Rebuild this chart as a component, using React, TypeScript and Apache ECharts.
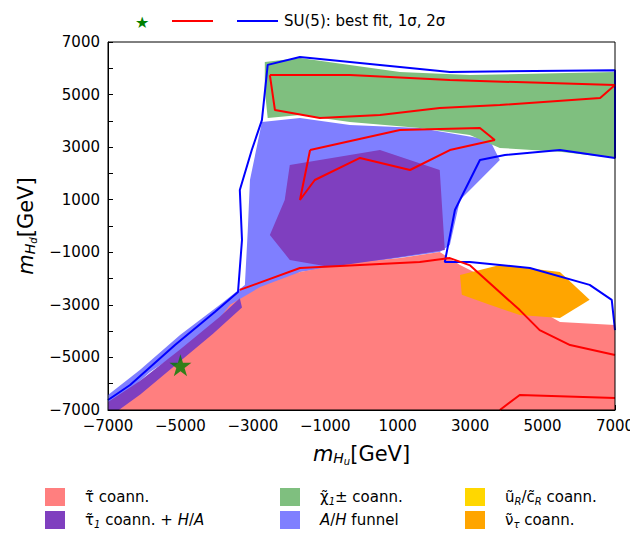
import { useEffect, useRef } from 'react'
import * as echarts from 'echarts'

// region outlines in (m_Hu, m_Hd) GeV
const funnelRegion = [[-7000,-7000],[-7000,-6430],[-6120,-5480],[-5010,-4150],[-3910,-3000],[-3220,-2240],[-3140,-150],[-3080,1750],[-2750,3960],[-1700,4110],[-320,3840],[1610,3730],[3540,3270],[3820,2510],[2720,990],[2440,-720],[2160,-990],[-1700,-1750],[-5840,-5550]]
const stauRegion = [[-7000,-7000],[-6300,-6500],[-5300,-5350],[-4300,-4200],[-3630,-3000],[-2800,-2320],[-1700,-1750],[-320,-1410],[1060,-1220],[2160,-990],[2720,-1480],[3820,-2240],[4650,-3000],[5480,-3650],[7000,-3770],[7000,-7000]]
const stau1Block = [[-1980,2320],[510,2890],[2160,2130],[2300,-910],[1060,-1180],[-870,-1560],[-1980,-1290],[-2530,-340],[-2120,990]]
const stau1Band = [[-7000,-6700],[-6120,-5900],[-5010,-4700],[-3910,-3450],[-3360,-2750],[-3300,-3100],[-4100,-4100],[-5100,-5250],[-6100,-6400],[-6700,-7000],[-7000,-7000]]
const charginoRegion = [[-2670,6240],[-1700,6390],[1060,5860],[2990,5740],[7000,5860],[7000,2590],[5480,2820],[3820,2970],[2990,3460],[1610,3730],[-320,3960],[-1700,4220],[-2590,4110],[-2670,5170]]
const sneutrinoRegion = [[2720,-1860],[3820,-1480],[5480,-1750],[6300,-2810],[5480,-3500],[4370,-3390],[3540,-3000],[2770,-2620]]

const blueContour = [[-7000,-6620],[-6390,-6050],[-5150,-4530],[-4050,-3270],[-3410,-2510],[-3300,-530],[-3360,1370],[-3030,2890],[-2750,4030],[-2590,6130],[-1700,6430],[2440,5860],[7000,5930],[7000,2590],[5480,2890],[3960,2700],[3270,2510],[2580,610],[2300,-1370],[2990,-1370],[4650,-1600],[6300,-2240],[6910,-2810],[7000,-3960]]
const redContourTop = [[-2530,5740],[-320,5740],[2440,5550],[7000,5360],[6590,4870],[3820,4600],[2160,4490],[510,4220],[-1150,4110],[-2390,4410],[-2530,5740]]
const redContourMid = [[-1420,2890],[1060,3650],[3270,3730],[3680,3270],[2440,2890],[1340,2130],[-40,2590],[-1290,1750],[-1700,990],[-1420,2890]]
const redContourLow = [[-3360,-2430],[-1700,-1600],[1610,-1370],[2440,-1220],[3000,-1500],[4370,-3200],[4920,-3960],[5760,-4530],[7000,-4910]]
const redContourBottom = [[3820,-7000],[4370,-6430],[7000,-6540]]
const bestFit = [[-5000,-5300]]

const xTicks = [-7000, -5000, -3000, -1000, 1000, 3000, 5000, 7000]

const C = { stau: '#ff7f7f', stau1: '#7f3fbf', chargino: '#7fbf7f', funnel: '#7f7fff', stop: '#ffd700', snu: '#ffa500' }

const STAR = 'path://M50,0 L61,35 L98,35 L68,57 L79,91 L50,70 L21,91 L32,57 L2,35 L39,35 Z'

function region(pts: number[][], color: string, z: number) {
  return {
    type: 'custom',
    data: pts,
    z,
    silent: true,
    renderItem: (params: any, api: any) => {
      if (params.dataIndex !== 0) return null
      return { type: 'polygon', shape: { points: pts.map((p) => api.coord(p)) }, style: { fill: color } }
    },
  }
}

function contour(pts: number[][], color: string) {
  return { type: 'line', data: pts, showSymbol: false, z: 10, lineStyle: { color, width: 2 } }
}

const fmt = (v: number) => (xTicks.includes(v) ? String(v).replace('-', '\u2212') : '')

export default function App() {
  const ref = useRef<HTMLDivElement>(null)
  useEffect(() => {
    if (!ref.current) return
    const chart = echarts.init(ref.current, undefined, { renderer: 'svg' })
    const font = 'DejaVu Sans'
    const axisCommon = {
      type: 'value', min: -7000, max: 7000, interval: 1000,
      axisLine: { onZero: false, lineStyle: { color: '#000', width: 1 } },
      axisTick: { inside: true, length: 5, lineStyle: { color: '#000' } },
      splitLine: { show: false },
      axisLabel: { formatter: fmt, color: '#000', fontSize: 15, fontFamily: font, showMinLabel: true, showMaxLabel: true },
      nameLocation: 'middle',
    }
    const rich = {
      sub: { fontSize: 10, fontFamily: font, fontStyle: 'italic', padding: [8, 0, 0, 0] },
      it: { fontSize: 15, fontFamily: font, fontStyle: 'italic' },
    }
    const legendRow = (y: number, items: [string, string, number][]) =>
      items.flatMap(([c, t, x]) => [
        { type: 'rect', shape: { x, y: y - 9, width: 20, height: 18 }, style: { fill: c } },
        { type: 'text', x: x + 40, y, style: { text: t, fill: '#000', font: `15px ${font}`, verticalAlign: 'middle', rich } },
      ])
    chart.setOption({
      animation: false,
      backgroundColor: '#fff',
      grid: { left: 108, right: 23, top: 42, bottom: 128 },
      xAxis: {
        ...axisCommon, position: 'bottom', nameGap: 32,
        name: '{i|m}{s|H}{ss|u}{n|[GeV]}',
        nameTextStyle: { rich: { i: { fontSize: 21, fontStyle: 'italic', fontFamily: font }, s: { fontSize: 14, fontStyle: 'italic', fontFamily: font, padding: [8, 0, 0, 0] }, ss: { fontSize: 10, fontStyle: 'italic', fontFamily: font, padding: [14, 0, 0, 0] }, n: { fontSize: 21, fontFamily: font } } },
      },
      yAxis: {
        ...axisCommon, nameGap: 68,
        name: '{i|m}{s|H}{ss|d}{n|[GeV]}',
        nameTextStyle: { rich: { i: { fontSize: 21, fontStyle: 'italic', fontFamily: font }, s: { fontSize: 14, fontStyle: 'italic', fontFamily: font, padding: [8, 0, 0, 0] }, ss: { fontSize: 10, fontStyle: 'italic', fontFamily: font, padding: [14, 0, 0, 0] }, n: { fontSize: 21, fontFamily: font } } },
      },
      series: [
        region(funnelRegion, C.funnel, 1),
        region(stauRegion, C.stau, 2),
        region(stau1Block, C.stau1, 3),
        region(stau1Band, C.stau1, 4),
        region(charginoRegion, C.chargino, 4),
        region(sneutrinoRegion, C.snu, 5),
        contour(blueContour, '#0000ff'),
        contour(redContourTop, '#ff0000'),
        contour(redContourMid, '#ff0000'),
        contour(redContourLow, '#ff0000'),
        contour(redContourBottom, '#ff0000'),
        { type: 'scatter', data: bestFit, symbol: STAR, symbolSize: 22, z: 12, itemStyle: { color: '#008000' } },
      ],
      graphic: [
        { type: 'rect', shape: { x: 108, y: 42, width: 507, height: 368 }, style: { fill: 'none', stroke: '#000', lineWidth: 1 }, z: 20 },
        { type: 'text', x: 135, y: 22, style: { text: '\u2605', fill: '#008000', font: `16px ${font}`, verticalAlign: 'middle' } },
        { type: 'line', shape: { x1: 172, y1: 21, x2: 213, y2: 21 }, style: { stroke: '#ff0000', lineWidth: 2 } },
        { type: 'line', shape: { x1: 237, y1: 21, x2: 278, y2: 21 }, style: { stroke: '#0000ff', lineWidth: 2 } },
        { type: 'text', x: 284, y: 21, style: { text: 'SU(5): best fit, 1\u03c3, 2\u03c3', fill: '#000', font: `15px ${font}`, verticalAlign: 'middle' } },
        ...legendRow(497, [[C.stau, '\u03c4\u0303 coann.', 45], [C.chargino, '\u03c7\u0303{sub|1}\u00b1 coann.', 280], [C.stop, '\u0169{sub|R}/c\u0303{sub|R} coann.', 465]]),
        ...legendRow(520, [[C.stau1, '\u03c4\u0303{sub|1} coann. + {it|H}/{it|A}', 45], [C.funnel, '{it|A}/{it|H} funnel', 280], [C.snu, '\u03bd\u0303{sub|\u03c4} coann.', 465]]),
      ],
    })
    return () => chart.dispose()
  }, [])
  return <div ref={ref} style={{ width: 638, height: 538, margin: -8 }} />
}
